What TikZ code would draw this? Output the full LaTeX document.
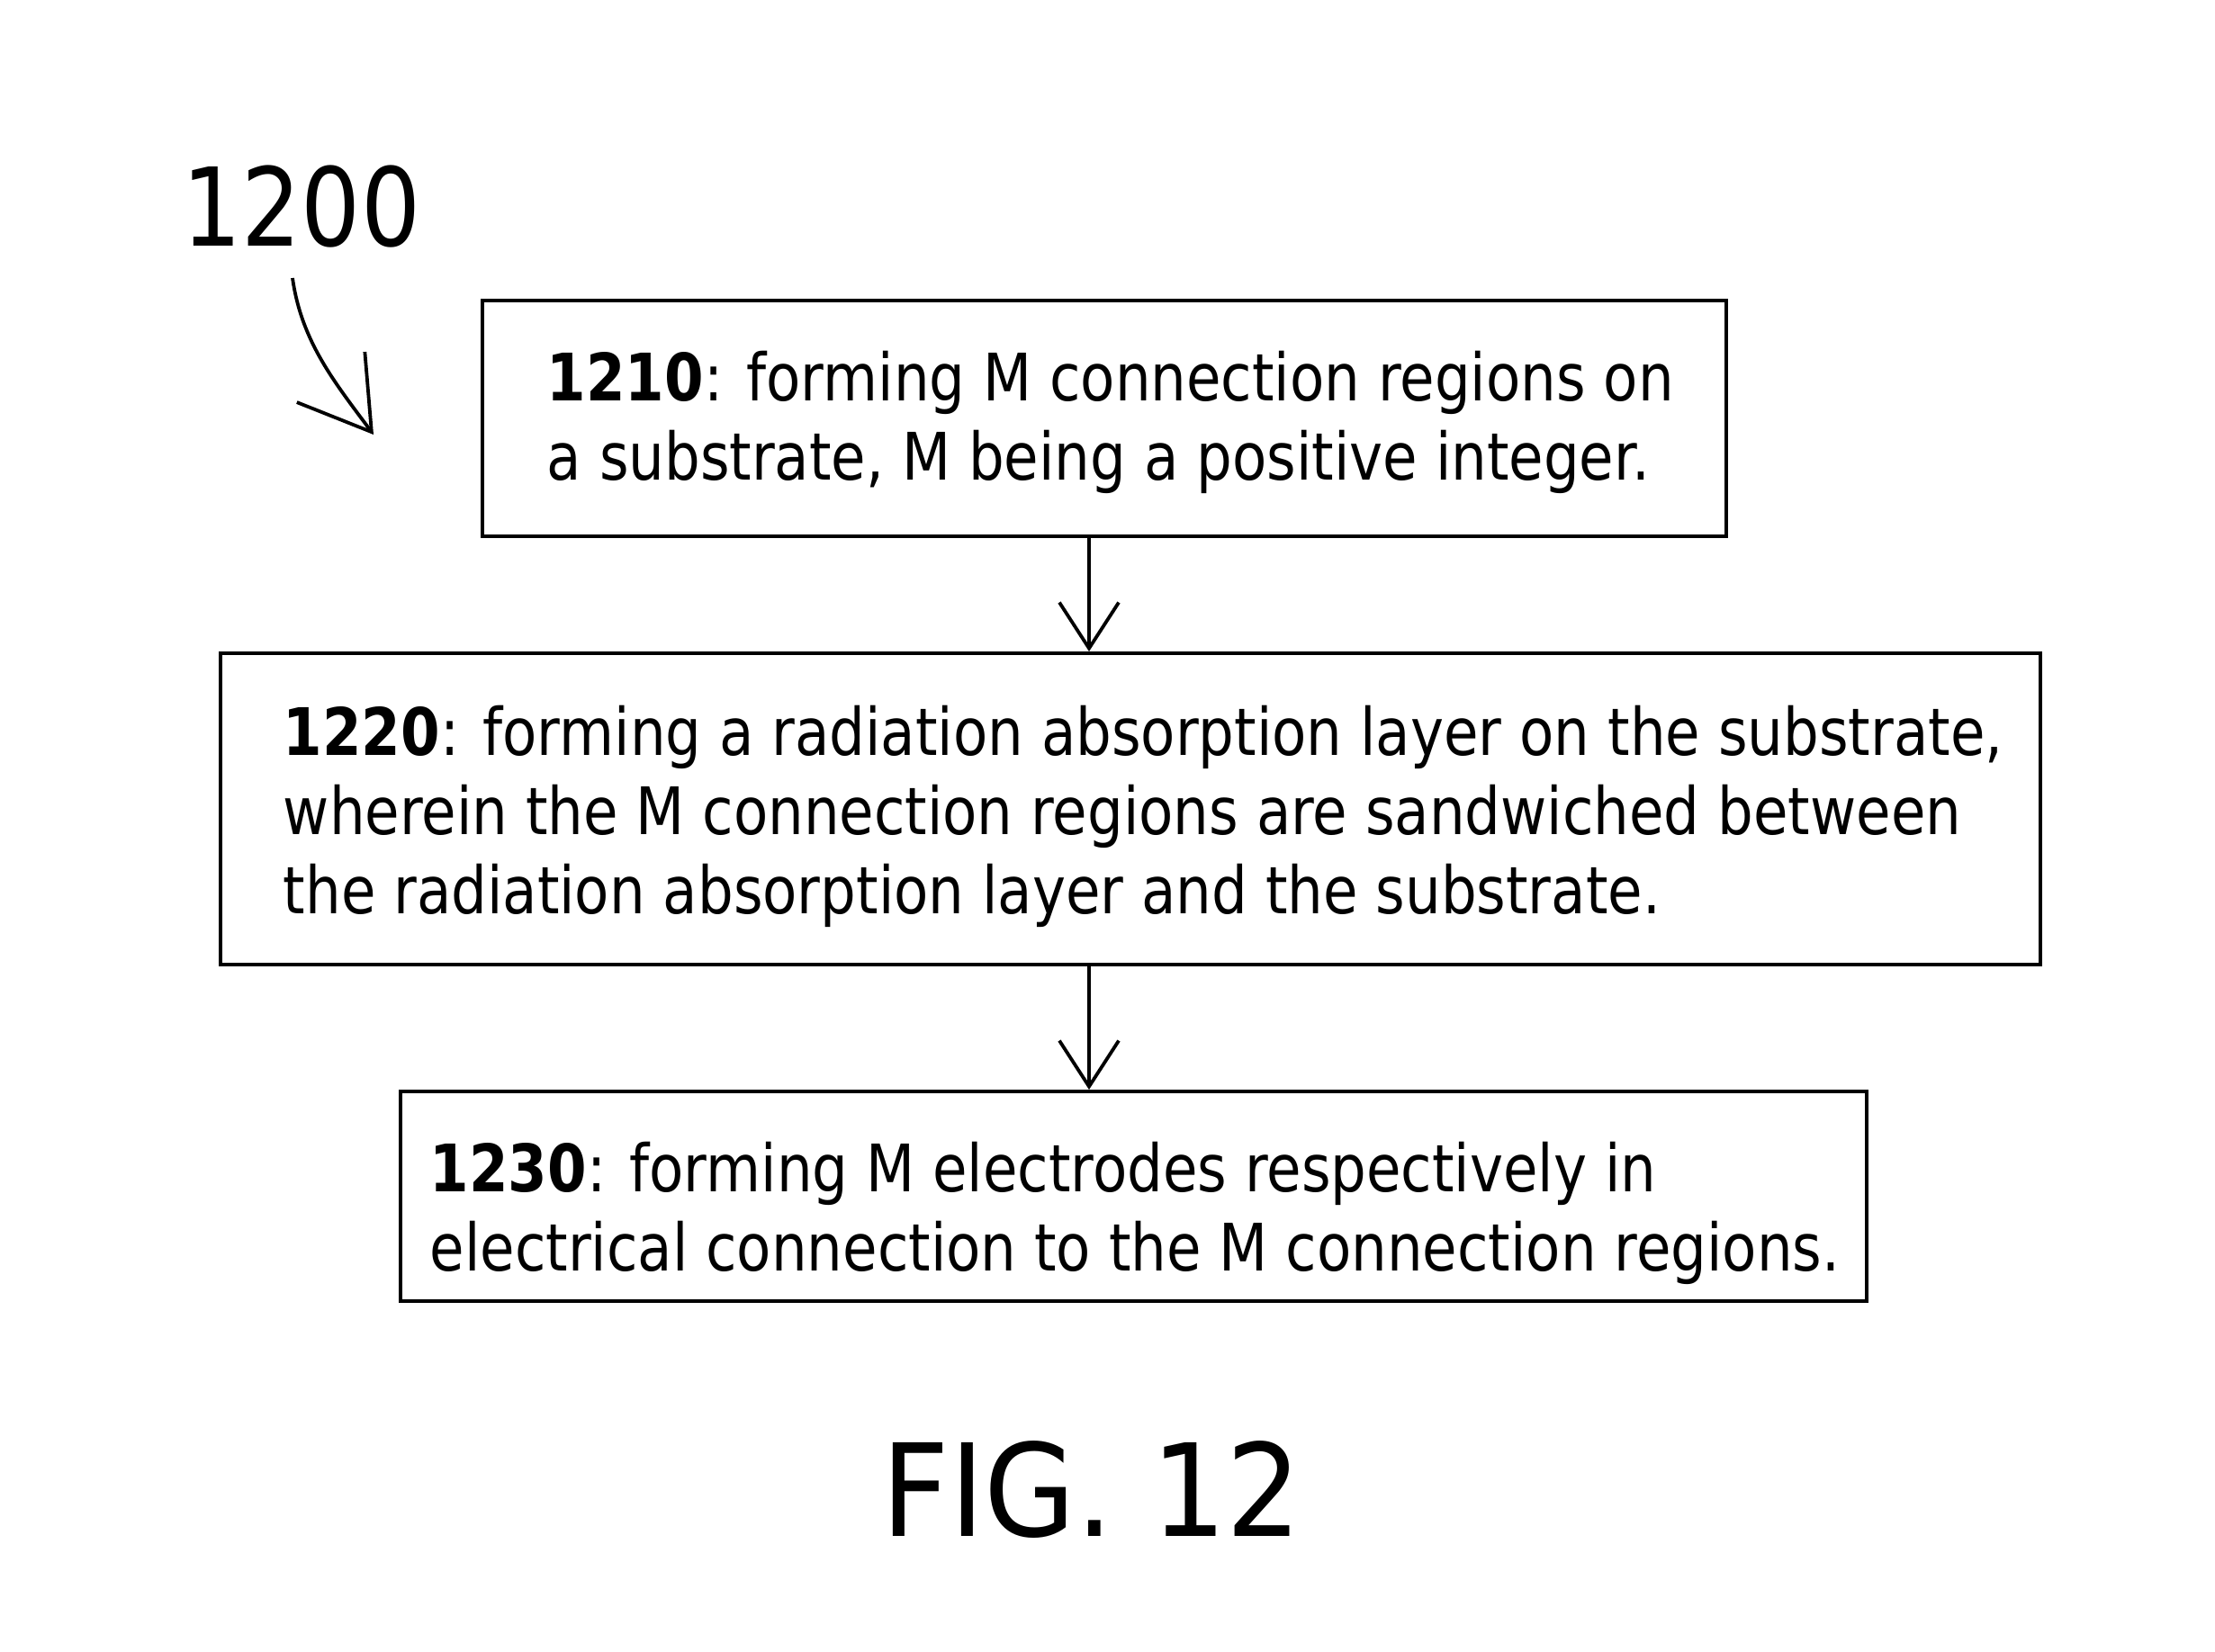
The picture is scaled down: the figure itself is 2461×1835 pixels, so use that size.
\documentclass[tikz,border=0pt]{standalone}
\usepackage{fontspec}
\setmainfont{DejaVu Sans}[FakeStretch=0.86]
\newfontfamily\capfont{DejaVu Sans}[FakeStretch=0.92]
\usetikzlibrary{arrows.meta}
\begin{document}
\begin{tikzpicture}[x=0.25pt,y=-0.25pt,
  stepbox/.style={draw,line width=1.1pt,inner sep=0pt,anchor=north west},
  steptext/.style={anchor=base west,inner sep=0pt,align=left,font=\fontsize{18.2}{22}\selectfont},
  flow/.style={line width=0.95pt,-{Straight Barb[length=12.75pt,width=16.5pt,line width=0.95pt]}},
  refarrow/.style={line width=0.95pt,-{Straight Barb[length=19pt,width=23.5pt,line width=0.95pt]}}]
\path[use as bounding box,fill=white] (0,0) rectangle (2461,1835);
% reference numeral
\node[anchor=base west,inner sep=0pt,font=\fontsize{30.2}{36}\selectfont] (ref) at (202,273) {1200};
\coordinate (c0) at (325,309);
\coordinate (c1) at (415,483);
\draw[refarrow] (c0) .. controls (335,380) and (372,425) .. (c1);
% boxes
\node[stepbox,minimum width=345.5pt,minimum height=65.5pt] (b1) at (534,332) {};
\node[stepbox,minimum width=505.5pt,minimum height=86.5pt] (b2) at (243,724) {};
\node[stepbox,minimum width=407.25pt,minimum height=58.25pt] (b3) at (443,1211) {};
% texts (anchored at the baseline of the last line)
\node[steptext] (t1) at (607,533) {\textbf{1210}: forming M connection regions on\\a substrate, M being a positive integer.};
\node[steptext] (t2) at (314,1015) {\textbf{1220}: forming a radiation absorption layer on the substrate,\\wherein the M connection regions are sandwiched between\\the radiation absorption layer and the substrate.};
\node[steptext] (t3) at (477,1412) {\textbf{1230}: forming M electrodes respectively in\\electrical connection to the M connection regions.};
% connectors
\coordinate (ax) at (1210,0);
\draw[flow] (ax |- b1.south) -- (ax |- b2.north);
\draw[flow] (ax |- b2.south) -- (ax |- b3.north);
% caption
\node[anchor=base,inner sep=0pt,font=\capfont\fontsize{35.7}{42}\selectfont] (fig) at (1213,1707) {FIG. 12};
\end{tikzpicture}
\end{document}
